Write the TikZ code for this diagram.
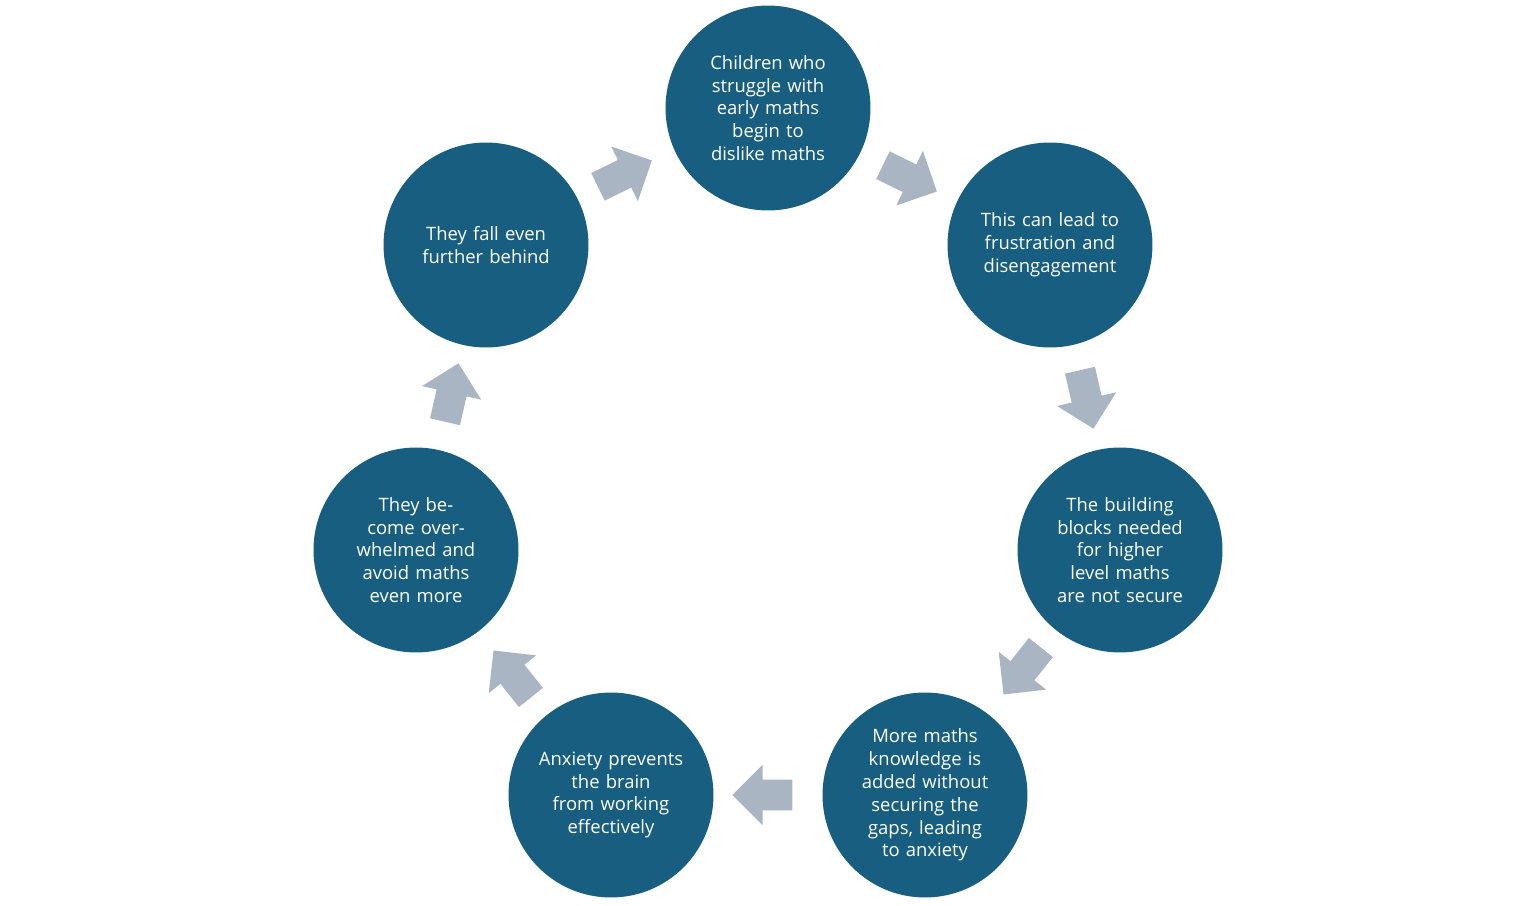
\documentclass[tikz,border=0pt]{standalone}
\usepackage{fontspec}
\setmainfont{Open Sans}
\usetikzlibrary{shapes.arrows}
\definecolor{stepblue}{HTML}{175E80}
\definecolor{flowgrey}{HTML}{A9B5C3}
\begin{document}
\begin{tikzpicture}[x=0.02cm, y=-0.02cm,
    stage/.style={circle, fill=stepblue, minimum size=4.1cm, text=white, text width=2.9cm, align=center, font=\fontsize{10.5}{13}\selectfont, inner sep=0pt},
    flow/.style={single arrow, fill=flowgrey, minimum height=1.2cm, single arrow head extend=0.3cm, inner sep=0.3cm, shape border rotate=0}]
    \useasboundingbox (0,0) rectangle (1536,906);

    % Cycle steps
    \node[stage] (dislike) at (768,108) {Children who struggle with early maths begin to dislike maths};
    \node[stage] (frustration) at (1050,245) {This can lead to frustration and disengagement};
    \node[stage] (blocks) at (1120,550) {The building blocks needed for higher level maths are not secure};
    \node[stage] (anxiety) at (925,795) {More maths knowledge is added without securing the gaps, leading to anxiety};
    \node[stage] (brain) at (611,795) {Anxiety prevents the brain from working effectively};
    \node[stage] (avoid) at (416,550) {They become overwhelmed and avoid maths even more};
    \node[stage] (behind) at (486,245) {They fall even further behind};

    % Arrows between steps
    \node[flow, rotate=26] (a1) at (618,177) {};
    \node[flow, rotate=-26] (a2) at (903,175) {};
    \node[flow, rotate=-77] (a3) at (1085,392) {};
    \node[flow, rotate=-128.5] (a4) at (1027,665) {};
    \node[flow, rotate=180] (a5) at (770,795) {};
    \node[flow, rotate=128.5] (a6) at (517,680) {};
    \node[flow, rotate=77] (a7) at (450,400) {};
\end{tikzpicture}
\end{document}
